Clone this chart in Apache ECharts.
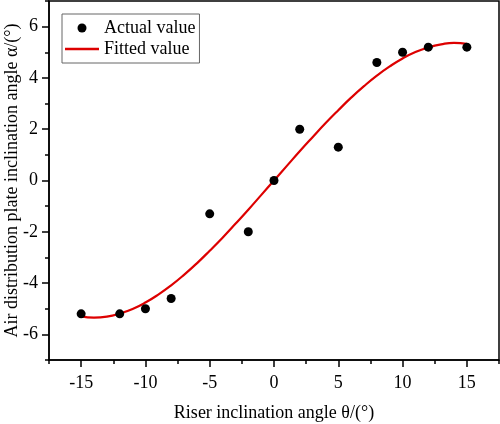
<!DOCTYPE html>
<html>
<head>
<meta charset="utf-8">
<script src="https://cdn.jsdelivr.net/npm/echarts@6/dist/echarts.min.js"></script>
<style>html,body{margin:0;padding:0;background:#fff}#c{width:500px;height:424px}</style>
</head>
<body>
<div id="c"></div>
<script>
var xActual = [-15, -12, -10, -8, -5, -2, 0, 2, 5, 8, 10, 12, 15];
var yActual = [-5.2, -5.2, -5.0, -4.6, -1.3, -2.0, 0, 2.0, 1.3, 4.6, 5.0, 5.2, 5.2];
var xFit = [-15, -14, -13, -12, -11, -10, -9, -8, -7, -6, -5, -4, -3, -2, -1, 0, 1, 2, 3, 4, 5, 6, 7, 8, 9, 10, 11, 12, 13, 14, 15];
var yFit = [-5.30, -5.35, -5.31, -5.19, -5.01, -4.76, -4.45, -4.09, -3.68, -3.23, -2.74, -2.23, -1.69, -1.14, -0.57, 0, 0.57, 1.14, 1.69, 2.23, 2.74, 3.23, 3.68, 4.09, 4.45, 4.76, 5.01, 5.19, 5.31, 5.37, 5.33];
var xMajor = [-15, -10, -5, 0, 5, 10, 15];
var xMinor = [-17.5, -12.5, -7.5, -2.5, 2.5, 7.5, 12.5, 17.5];
var yMajor = [-6, -4, -2, 0, 2, 4, 6];
var yMinor = [-7, -5, -3, -1, 1, 3, 5, 7];
var xName = 'Riser inclination angle θ/(°)';
var yName = 'Air distribution plate inclination angle α/(°)';

var FONT = 'Liberation Serif';
var chart = echarts.init(document.getElementById('c'));

function pairs(xs, ys) { return xs.map(function (x, i) { return [x, ys[i]]; }); }

var lineW = 1.5;
chart.setOption({
  animation: false,
  textStyle: { fontFamily: FONT },
  grid: { left: 49, right: 1, top: 1, bottom: 64, show: true, borderColor: '#000', borderWidth: lineW,
          containLabel: false, outerBoundsMode: 'none' },
  legend: {
    orient: 'vertical', left: 62, top: 14,
    borderColor: '#666', borderWidth: 1, padding: [5, 4, 5, 3],
    itemWidth: 34, itemHeight: 9, itemGap: 3,
    textStyle: { fontFamily: FONT, fontSize: 18, color: '#000' },
    data: [
      { name: 'Actual value', icon: 'circle' },
      { name: 'Fitted value', icon: 'path://M0,0L34,0L34,2.4L0,2.4Z' }
    ]
  },
  xAxis: [{
    type: 'value', min: -17.5, max: 17.5, position: 'bottom',
    name: xName, nameLocation: 'middle', nameGap: 44, nameMoveOverlap: false,
    nameTextStyle: { fontFamily: FONT, fontSize: 18, color: '#000' },
    axisLine: { show: true, onZero: false, lineStyle: { color: '#000', width: lineW } },
    axisTick: { show: true, length: 7, customValues: xMajor, lineStyle: { color: '#000', width: lineW } },
    axisLabel: { customValues: xMajor, fontFamily: FONT, fontSize: 18, color: '#000', margin: 14 },
    splitLine: { show: false }
  }, {
    type: 'value', min: -17.5, max: 17.5, position: 'bottom',
    axisLine: { show: false, onZero: false },
    axisTick: { show: true, length: 4, customValues: xMinor, lineStyle: { color: '#000', width: lineW } },
    axisLabel: { show: false },
    splitLine: { show: false }
  }],
  yAxis: [{
    type: 'value', min: -7, max: 7, position: 'left',
    name: yName, nameLocation: 'middle', nameGap: 28, nameMoveOverlap: false,
    nameTextStyle: { fontFamily: FONT, fontSize: 18, color: '#000' },
    axisLine: { show: true, onZero: false, lineStyle: { color: '#000', width: lineW } },
    axisTick: { show: true, length: 7, customValues: yMajor, lineStyle: { color: '#000', width: lineW } },
    axisLabel: { customValues: yMajor, fontFamily: FONT, fontSize: 18, color: '#000', margin: 11 },
    splitLine: { show: false }
  }, {
    type: 'value', min: -7, max: 7, position: 'left',
    axisLine: { show: false, onZero: false },
    axisTick: { show: true, length: 4, customValues: yMinor, lineStyle: { color: '#000', width: lineW } },
    axisLabel: { show: false },
    splitLine: { show: false }
  }],
  series: [{
    name: 'Actual value', type: 'scatter', xAxisIndex: 0, yAxisIndex: 0,
    symbol: 'circle', symbolSize: 9, itemStyle: { color: '#000', opacity: 1 },
    data: pairs(xActual, yActual), z: 3
  }, {
    name: 'Fitted value', type: 'line', xAxisIndex: 0, yAxisIndex: 0,
    smooth: true, showSymbol: false, symbol: 'none',
    lineStyle: { color: '#dd0000', width: 2.2 }, itemStyle: { color: '#dd0000' },
    data: pairs(xFit, yFit), z: 2
  }]
});
</script>
</body>
</html>
